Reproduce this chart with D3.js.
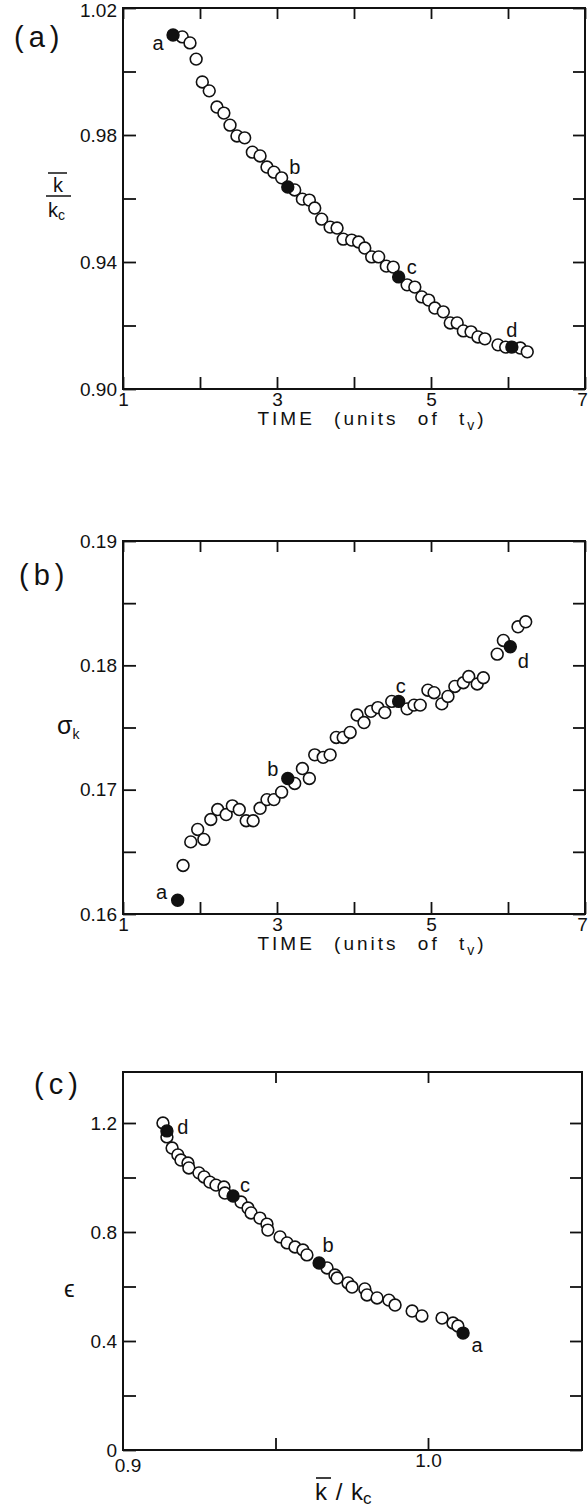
<!DOCTYPE html>
<html><head><meta charset="utf-8">
<script src="https://cdn.jsdelivr.net/npm/d3@7"></script>
<style>
body{margin:0;background:#fff}
svg{display:block}
text{font-family:"Liberation Sans",Arial,sans-serif;fill:#111}
</style>
</head><body><svg id="fig" width="588" height="1508"></svg>
<script>
// ---------- DATA ----------
// Panel (a): mean k / k_c versus time
const timeA = [1.65,1.77,1.87,1.95,2.03,2.12,2.22,2.31,2.39,2.48,2.58,2.68,2.78,2.87,2.96,3.06,3.14,3.23,3.33,3.42,3.49,3.58,3.69,3.78,3.86,3.97,4.06,4.14,4.23,4.32,4.42,4.51,4.58,4.69,4.79,4.88,4.97,5.05,5.16,5.25,5.34,5.42,5.52,5.61,5.70,5.87,5.97,6.05,6.16,6.25];
const kRatioA = [1.0115,1.0109,1.0090,1.0039,0.9967,0.9939,0.9888,0.9869,0.9831,0.9797,0.9791,0.9746,0.9734,0.9699,0.9683,0.9665,0.9636,0.9627,0.9598,0.9595,0.9570,0.9535,0.9510,0.9507,0.9472,0.9469,0.9463,0.9444,0.9416,0.9416,0.9387,0.9384,0.9353,0.9328,0.9321,0.9290,0.9280,0.9255,0.9243,0.9208,0.9208,0.9183,0.9180,0.9164,0.9158,0.9139,0.9132,0.9132,0.9129,0.9117];
const keyIndexA = [0,16,32,47];
// Panel (b): sigma_k versus time
const timeB = [1.71,1.78,1.88,1.97,2.05,2.14,2.23,2.34,2.42,2.51,2.60,2.69,2.78,2.87,2.96,3.06,3.14,3.23,3.33,3.42,3.49,3.60,3.69,3.77,3.86,3.95,4.04,4.13,4.22,4.31,4.40,4.49,4.58,4.69,4.78,4.86,4.96,5.04,5.14,5.22,5.31,5.42,5.49,5.60,5.68,5.86,5.94,6.03,6.13,6.23];
const sigmaB = [0.1611,0.1639,0.1658,0.1668,0.1660,0.1676,0.1684,0.1680,0.1687,0.1684,0.1675,0.1675,0.1685,0.1692,0.1692,0.1698,0.1709,0.1705,0.1717,0.1709,0.1728,0.1726,0.1728,0.1742,0.1742,0.1746,0.1760,0.1754,0.1763,0.1766,0.1762,0.1771,0.1771,0.1765,0.1768,0.1768,0.1780,0.1778,0.1769,0.1775,0.1783,0.1786,0.1791,0.1785,0.1790,0.1809,0.1820,0.1815,0.1831,0.1835];
const keyIndexB = [0,16,32,47];
// Panel (c): epsilon versus mean k / k_c
const kRatioC = [0.9131,0.9144,0.9144,0.9161,0.9180,0.9190,0.9213,0.9216,0.9249,0.9266,0.9285,0.9305,0.9331,0.9334,0.9361,0.9387,0.9410,0.9420,0.9449,0.9472,0.9475,0.9515,0.9538,0.9564,0.9590,0.9603,0.9643,0.9669,0.9695,0.9702,0.9738,0.9751,0.9793,0.9800,0.9833,0.9872,0.9892,0.9948,0.9980,1.0046,1.0082,1.0098,1.0115];
const epsC = [1.200,1.171,1.149,1.108,1.083,1.064,1.053,1.035,1.017,1.002,0.983,0.972,0.965,0.943,0.932,0.910,0.888,0.870,0.851,0.829,0.807,0.782,0.760,0.745,0.734,0.716,0.686,0.668,0.642,0.631,0.613,0.598,0.591,0.569,0.558,0.550,0.532,0.510,0.492,0.484,0.466,0.455,0.429];
const keyIndexC = [42,26,14,1];
const keyLetters = ["a","b","c","d"];

// tick values / labels
const timeTicks = [1,2,3,4,5,6,7];
const timeTickLabels = ["1","","3","","5","","7"];
const kTicksA = [0.90,0.92,0.94,0.96,0.98,1.00,1.02];
const kTickLabelsA = ["0.90","","0.94","","0.98","","1.02"];
const sigTicksB = [0.160,0.165,0.170,0.175,0.180,0.185,0.190];
const sigTickLabelsB = ["0.16","","0.17","","0.18","","0.19"];
const kTicksC = [0.95,1.0];
const kTickLabelsC = ["","1.0"];
const epsTicksC = [0,0.2,0.4,0.6,0.8,1.0,1.2];
const epsTickLabelsC = ["0","","0.4","","0.8","","1.2"];

// ---------- DRAW ----------
const svg = d3.select("#fig");
svg.append("rect").attr("width",588).attr("height",1508).attr("fill","#fff");
const FS = 19, R = 5.9;

function labeler(ticks, labels){ return v => { const i = ticks.findIndex(t => Math.abs(t-v)<1e-9); return i<0?"":labels[i]; }; }

function frame(g, x0, y0, x1, y1){
  g.append("rect").attr("x",x0).attr("y",y0).attr("width",x1-x0).attr("height",y1-y0)
   .attr("fill","none").attr("stroke","#111").attr("stroke-width",2);
}
function styleAxis(sel){
  sel.select(".domain").remove();
  sel.selectAll(".tick line").attr("stroke","#111").attr("stroke-width",1.8);
  sel.selectAll(".tick text").attr("font-size",FS).attr("fill","#111")
     .attr("font-family","Liberation Sans, Arial, sans-serif");
}
function axes(g, x, y, box, xt, xl, yt, yl){
  const [x0,y0,x1,y1] = box;
  const bx = g.append("g").attr("transform",`translate(0,${y1})`)
   .call(d3.axisBottom(x).tickValues(xt).tickSize(-12).tickPadding(3).tickFormat(labeler(xt,xl))).call(styleAxis);
  // keep a label sitting on the right frame edge inside the page
  bx.selectAll(".tick").filter(d => x(d) > 580).select("text").attr("dx",-3);
  g.append("g").attr("transform",`translate(0,${y0})`)
   .call(d3.axisTop(x).tickValues(xt).tickSize(-11).tickFormat(()=>"")).call(styleAxis);
  const ly = g.append("g").attr("transform",`translate(${x0},0)`)
   .call(d3.axisLeft(y).tickValues(yt).tickSize(-13).tickPadding(6).tickFormat(labeler(yt,yl))).call(styleAxis);
  ly.selectAll(".tick").filter(d => y(d) < 12).select("text").attr("dy","0.45em");
  g.append("g").attr("transform",`translate(${x1},0)`)
   .call(d3.axisRight(y).tickValues(yt).tickSize(-12).tickFormat(()=>"")).call(styleAxis);
  frame(g, x0,y0,x1,y1);
}
function points(g, xs, ys, x, y, keys, offsets){
  const data = xs.map((v,i)=>({x:v,y:ys[i],k:keys.indexOf(i)}));
  g.append("g").selectAll("circle").data(data.filter(d=>d.k<0)).join("circle")
    .attr("cx",d=>x(d.x)).attr("cy",d=>y(d.y)).attr("r",R)
    .attr("fill","#fff").attr("stroke","#111").attr("stroke-width",1.6);
  const kd = data.filter(d=>d.k>=0);
  g.append("g").selectAll("circle").data(kd).join("circle")
    .attr("cx",d=>x(d.x)).attr("cy",d=>y(d.y)).attr("r",R)
    .attr("fill","#111").attr("stroke","#111").attr("stroke-width",1.6);
  g.append("g").selectAll("text").data(kd).join("text")
    .attr("x",d=>x(d.x)+offsets[d.k][0]).attr("y",d=>y(d.y)+offsets[d.k][1])
    .attr("dy","0.35em").attr("text-anchor","middle").attr("font-size",20)
    .text(d=>keyLetters[d.k]);
}
function timeTitle(g, cx, y){
  const t = g.append("text").attr("x",cx).attr("y",y).attr("text-anchor","middle")
    .attr("font-size",FS).attr("letter-spacing",3).attr("word-spacing",11);
  t.append("tspan").text("TIME (units of t");
  t.append("tspan").attr("font-size",14).attr("dy",5).text("v");
  t.append("tspan").attr("dy",-5).text(")");
}

// Panel (a)
{
  const g = svg.append("g");
  const box = [123,8,585,389];
  const x = d3.scaleLinear([1,7],[123,585]);
  const y = d3.scaleLinear([0.90,1.02],[389,8]);
  axes(g,x,y,box,timeTicks,timeTickLabels,kTicksA,kTickLabelsA);
  points(g,timeA,kRatioA,x,y,keyIndexA,[[-15,8],[7,-20],[13,-10],[0,-17]]);
  timeTitle(g,372,425);
  g.append("text").attr("x",14).attr("y",47).attr("font-size",29).attr("letter-spacing",5).text("(a)");
  // y label: k-bar over k_c
  g.append("line").attr("x1",48).attr("x2",67).attr("y1",173).attr("y2",173).attr("stroke","#111").attr("stroke-width",1.5);
  g.append("text").attr("x",58).attr("y",192).attr("text-anchor","middle").attr("font-size",20).text("k");
  g.append("line").attr("x1",46).attr("x2",71).attr("y1",196).attr("y2",196).attr("stroke","#111").attr("stroke-width",1.5);
  const kc = g.append("text").attr("x",48).attr("y",217).attr("font-size",20);
  kc.append("tspan").text("k"); kc.append("tspan").attr("font-size",14).attr("dy",3).text("c");
}
// Panel (b)
{
  const g = svg.append("g");
  const box = [123,541,585,914];
  const x = d3.scaleLinear([1,7],[123,585]);
  const y = d3.scaleLinear([0.16,0.19],[914,541]);
  axes(g,x,y,box,timeTicks,timeTickLabels,sigTicksB,sigTickLabelsB);
  points(g,timeB,sigmaB,x,y,keyIndexB,[[-16,-8],[-15,-9],[2,-15],[13,14]]);
  timeTitle(g,372,950);
  g.append("text").attr("x",19).attr("y",585).attr("font-size",29).attr("letter-spacing",5).text("(b)");
  const s = g.append("text").attr("x",57).attr("y",734).attr("font-size",25);
  s.append("tspan").text("σ"); s.append("tspan").attr("font-size",14).attr("dy",5).text("k");
}
// Panel (c)
{
  const g = svg.append("g");
  const box = [123,1072,582,1450];
  const x = d3.scaleLinear([0.9,1.0],[123,428]);
  const y = d3.scaleLinear([0,1.2],[1450,1123]);
  axes(g,x,y,box,kTicksC,kTickLabelsC,epsTicksC,epsTickLabelsC);
  g.append("text").attr("x",128).attr("y",1472).attr("text-anchor","middle").attr("font-size",FS).text("0.9");
  points(g,kRatioC,epsC,x,y,keyIndexC,[[14,12],[9,-18],[12,-11],[16,-4]]);
  g.append("text").attr("x",34).attr("y",1094).attr("font-size",29).attr("letter-spacing",5).text("(c)");
  g.append("text").attr("x",64).attr("y",1297).attr("font-size",24).attr("font-family","DejaVu Sans").text("ϵ");
  // x label k-bar / k_c
  g.append("line").attr("x1",316).attr("x2",331).attr("y1",1478).attr("y2",1478).attr("stroke","#111").attr("stroke-width",1.6);
  const xl = g.append("text").attr("x",315).attr("y",1500).attr("font-size",24).attr("word-spacing",2);
  xl.append("tspan").text("k / k"); xl.append("tspan").attr("font-size",17).attr("dy",4).text("c");
}
</script></body></html>
